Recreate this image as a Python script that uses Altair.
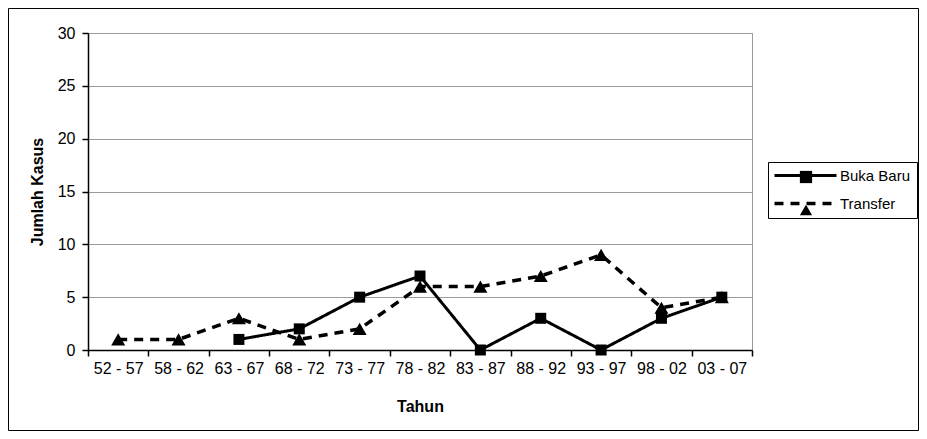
import altair as alt
import pandas as pd

categories = ["52 - 57", "58 - 62", "63 - 67", "68 - 72", "73 - 77", "78 - 82",
              "83 - 87", "88 - 92", "93 - 97", "98 - 02", "03 - 07"]
buka_baru = [None, None, 1, 2, 5, 7, 0, 3, 0, 3, 5]
transfer = [1, 1, 3, 1, 2, 6, 6, 7, 9, 4, 5]
series_names = ["Buka Baru", "Transfer"]
marker_keys = ["square marker", "triangle marker"]
y_ticks = [0, 5, 10, 15, 20, 25, 30]

FONT = "Liberation Sans"
W, H = 664, 317
PAD = {"left": 80, "top": 25, "right": 167, "bottom": 81}

bb = pd.DataFrame({"Tahun": categories, "v": buka_baru, "series": series_names[0]}).dropna()
tr = pd.DataFrame({"Tahun": categories, "v": transfer, "series": series_names[1]})
both = pd.concat([bb, tr], ignore_index=True)

xenc = alt.X("Tahun:N", sort=categories, bandPosition=0.5,
             scale=alt.Scale(type="band", paddingInner=0, paddingOuter=0, domain=categories),
             axis=alt.Axis(title="Tahun", tickBand="extent", labelAngle=0, grid=False,
                           domainColor="black", domainWidth=1.5, tickColor="black",
                           tickWidth=1.5, tickSize=6, labelPadding=4, titlePadding=22))
yenc = alt.Y("v:Q", scale=alt.Scale(domain=[0, 30], nice=False),
             axis=alt.Axis(title="Jumlah Kasus", values=y_ticks, grid=True,
                           gridColor="#9a9a9a", gridWidth=1, domainColor="black",
                           domainWidth=1.5, tickColor="black", tickWidth=1.5,
                           tickSize=6, labelPadding=7, titlePadding=12))

lines = alt.Chart(both).mark_line(color="black").encode(
    x=xenc, y=yenc,
    strokeDash=alt.StrokeDash(
        "series:N", scale=alt.Scale(domain=series_names, range=[[1, 0], [9, 7]]),
        legend=alt.Legend(title=None, orient="none", legendX=680, legendY=129,
                          strokeColor="black", fillColor="white", padding=6,
                          symbolType="M-1.4,0H11", symbolSize=100, symbolStrokeWidth=3.5,
                          symbolStrokeColor="black", labelOffset=51, labelFontSize=15,
                          labelFont=FONT, labelColor="black", rowPadding=12, zindex=1)),
    strokeWidth=alt.StrokeWidth("series:N",
                                scale=alt.Scale(domain=series_names, range=[3, 3.5]),
                                legend=None),
)
pt_bb = alt.Chart(bb).mark_point(shape="square", filled=True, color="black",
                                 opacity=1, size=121).encode(x=xenc, y=yenc)
pt_tr = alt.Chart(tr).mark_point(shape="triangle-up", filled=True, color="black",
                                 opacity=1, size=196).encode(x=xenc, y=yenc)

legend_markers = alt.Chart(pd.DataFrame({"marker": marker_keys})).transform_filter(
    "false").mark_point(filled=True, color="black", opacity=1).encode(
    shape=alt.Shape("marker:N",
                    scale=alt.Scale(domain=marker_keys, range=["square", "triangle-up"]),
                    legend=alt.Legend(title=None, orient="none", legendX=710, legendY=136,
                                      padding=0, symbolSize=150, symbolFillColor="black",
                                      symbolStrokeColor="black", symbolStrokeWidth=0,
                                      symbolOpacity=1, labelExpr="''", labelFontSize=16,
                                      labelFont=FONT, rowPadding=17, zindex=2)),
)

frame = alt.Chart(pd.DataFrame({"a": [0]})).mark_rect(
    fill=None, stroke="black", strokeWidth=1
).encode(
    x=alt.value(-PAD["left"] + 0.5), x2=alt.value(W + PAD["right"] - 0.5),
    y=alt.value(-PAD["top"] + 0.5), y2=alt.value(H + PAD["bottom"] - 0.5),
)

chart = alt.layer(frame, lines, pt_bb, pt_tr, legend_markers).properties(
    width=W, height=H, padding=PAD, autosize=alt.AutoSizeParams(type="none"),
    background="white",
).configure_view(stroke="#9a9a9a", strokeWidth=1).configure_axis(
    labelFont=FONT, titleFont=FONT, labelFontSize=16, titleFontSize=16,
    labelColor="black", titleColor="black", titleFontWeight="bold",
)

chart.save("out.html", embed_options={"renderer": "svg", "actions": False})
